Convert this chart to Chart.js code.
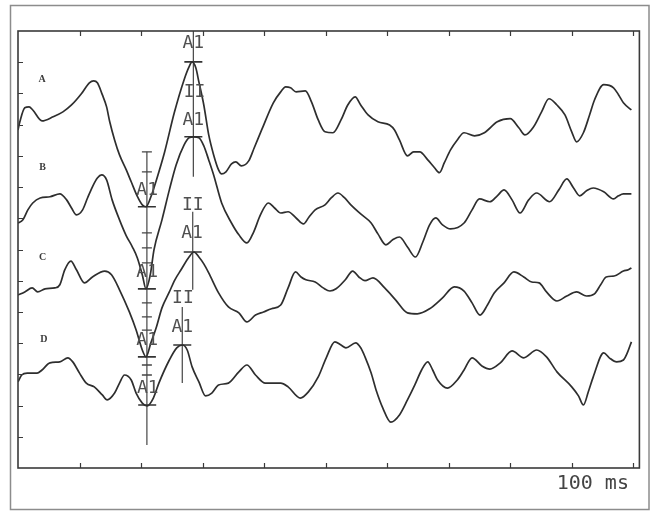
<!DOCTYPE html>
<html>
<head>
<meta charset="utf-8">
<script src="https://cdn.jsdelivr.net/npm/chart.js@4.4.1/dist/chart.umd.min.js"></script>
<style>
  html, body { margin: 0; padding: 0; background: #fff; }
  #wrap { width: 650px; height: 512px; position: relative; }
</style>
</head>
<body>
<div id="wrap"><canvas id="chart" width="650" height="512"></canvas></div>
<script>
// time in ms, amplitude in vertical divisions (0 = bottom, 14 = top)
const aTime = [0, 0.3, 1.1, 1.8, 2.4, 3.9, 5.7, 7.3, 8.7, 10.3, 11.6, 12.3, 12.9, 13.7, 14.4, 14.9, 15.7, 16.5, 17.6, 18.4, 19.4, 20.2, 20.8, 21.6, 22.5, 23.8, 25.4, 27.0, 27.8, 28.3, 28.9, 29.4, 30.2, 31.0, 31.8, 32.6, 33.1, 33.8, 34.7, 35.4, 36.3, 37.5, 38.4, 39.6, 41.5, 42.7, 43.5, 44.3, 45.2, 46.7, 47.7, 48.8, 49.9, 51.2, 52.5, 53.6, 54.8, 55.7, 56.9, 58.5, 60.4, 61.2, 62.0, 63.3, 64.3, 65.3, 66.6, 67.7, 68.5, 69.3, 70.3, 71.4, 72.5, 74.2, 75.8, 77.9, 80.0, 81.4, 82.4, 83.8, 85.1, 86.3, 87.6, 88.9, 90.0, 90.8, 91.9, 92.9, 93.7, 95.2, 96.8, 97.6, 98.4, 99.7];
const aVal = [10.83, 11.09, 11.54, 11.57, 11.47, 11.12, 11.25, 11.41, 11.63, 11.99, 12.34, 12.40, 12.34, 11.96, 11.57, 11.10, 10.51, 10.03, 9.55, 9.17, 8.70, 8.43, 8.37, 8.69, 9.23, 10.10, 11.38, 12.44, 12.85, 13.01, 12.82, 12.37, 11.63, 10.67, 10.03, 9.55, 9.42, 9.49, 9.74, 9.81, 9.68, 9.84, 10.26, 10.83, 11.70, 12.05, 12.21, 12.18, 12.05, 12.08, 11.73, 11.15, 10.77, 10.74, 11.15, 11.63, 11.89, 11.63, 11.31, 11.09, 10.99, 10.83, 10.51, 10.00, 10.13, 10.13, 9.87, 9.62, 9.46, 9.78, 10.19, 10.51, 10.74, 10.64, 10.74, 11.09, 11.19, 10.90, 10.67, 10.93, 11.41, 11.83, 11.63, 11.31, 10.77, 10.45, 10.74, 11.31, 11.79, 12.28, 12.18, 11.96, 11.70, 11.47];

const bTime = [0, 0.8, 1.6, 2.4, 3.6, 5.2, 6.8, 7.9, 8.7, 9.5, 10.5, 11.3, 12.1, 12.9, 13.6, 14.4, 15.3, 16.5, 17.6, 18.6, 19.4, 20.2, 20.8, 21.5, 22.1, 23.4, 24.6, 25.7, 27.0, 27.8, 28.6, 29.4, 30.2, 31.0, 31.8, 33.1, 34.7, 35.9, 37.2, 38.3, 39.4, 40.7, 41.7, 42.7, 43.9, 45.2, 46.4, 47.3, 48.3, 49.9, 50.9, 52.0, 53.1, 54.1, 55.7, 57.4, 58.5, 59.8, 60.9, 62.0, 63.3, 64.6, 65.8, 66.9, 67.9, 69.0, 70.3, 72.5, 73.8, 75.0, 76.7, 77.9, 79.0, 80.3, 81.6, 83.0, 84.3, 86.4, 87.9, 89.2, 90.3, 91.3, 92.4, 93.5, 95.2, 96.8, 97.6, 98.4, 99.7];
const bVal = [7.85, 7.95, 8.27, 8.49, 8.65, 8.69, 8.78, 8.59, 8.33, 8.11, 8.27, 8.65, 9.01, 9.29, 9.39, 9.23, 8.59, 7.95, 7.44, 7.08, 6.73, 6.19, 5.74, 6.19, 6.99, 7.95, 8.91, 9.71, 10.35, 10.58, 10.61, 10.58, 10.32, 9.87, 9.39, 8.49, 7.85, 7.47, 7.21, 7.56, 8.11, 8.49, 8.33, 8.17, 8.21, 8.01, 7.82, 8.04, 8.27, 8.43, 8.65, 8.81, 8.65, 8.43, 8.14, 7.85, 7.50, 7.15, 7.31, 7.40, 7.08, 6.76, 7.24, 7.79, 8.01, 7.79, 7.66, 7.85, 8.27, 8.62, 8.53, 8.72, 8.91, 8.59, 8.17, 8.59, 8.81, 8.53, 8.91, 9.26, 8.97, 8.72, 8.88, 8.97, 8.85, 8.62, 8.72, 8.78, 8.78];

const cTime = [0, 1.1, 2.3, 3.2, 4.4, 6.0, 6.8, 7.6, 8.6, 9.5, 10.8, 12.1, 14.1, 15.2, 16.5, 18.1, 19.2, 20.2, 20.8, 21.6, 22.5, 23.4, 24.6, 25.5, 26.5, 27.8, 28.6, 29.4, 30.2, 31.0, 32.6, 34.2, 35.9, 37.2, 38.6, 39.9, 41.2, 42.7, 43.9, 45.1, 46.0, 46.8, 48.3, 49.6, 50.7, 51.7, 53.2, 54.4, 55.4, 56.4, 57.7, 59.6, 61.4, 63.3, 64.9, 66.9, 69.0, 70.9, 72.5, 73.8, 75.1, 76.3, 77.4, 79.0, 80.6, 82.2, 83.5, 84.7, 85.9, 87.6, 89.2, 90.8, 92.4, 93.7, 94.7, 95.6, 96.9, 98.4, 99.2, 99.7];
const cVal = [5.54, 5.64, 5.77, 5.64, 5.74, 5.77, 5.87, 6.35, 6.63, 6.35, 5.93, 6.12, 6.31, 6.19, 5.71, 5.00, 4.42, 3.78, 3.56, 4.01, 4.52, 5.13, 5.64, 6.03, 6.35, 6.76, 6.92, 6.76, 6.54, 6.25, 5.61, 5.16, 4.97, 4.68, 4.90, 5.00, 5.10, 5.22, 5.77, 6.28, 6.12, 6.03, 5.96, 5.77, 5.67, 5.74, 6.03, 6.31, 6.12, 6.00, 6.09, 5.77, 5.38, 4.97, 4.94, 5.10, 5.45, 5.80, 5.67, 5.29, 4.90, 5.22, 5.61, 5.93, 6.28, 6.12, 5.96, 5.93, 5.64, 5.35, 5.51, 5.64, 5.51, 5.58, 5.87, 6.12, 6.15, 6.31, 6.35, 6.41];

const dTime = [0, 0.6, 1.5, 3.1, 3.9, 5.2, 6.8, 8.1, 8.9, 10.0, 11.1, 12.4, 13.7, 14.5, 15.7, 16.5, 17.3, 18.4, 19.2, 20.2, 21.0, 22.0, 22.9, 24.6, 25.8, 26.7, 27.5, 28.3, 29.4, 30.5, 31.5, 32.6, 34.2, 35.9, 37.2, 38.6, 40.2, 42.7, 43.9, 45.9, 47.2, 48.8, 50.1, 51.5, 52.5, 53.3, 54.9, 55.7, 56.4, 57.4, 58.2, 59.3, 60.6, 62.0, 63.3, 64.5, 65.6, 66.6, 67.4, 68.2, 69.8, 71.4, 72.5, 73.8, 75.4, 76.7, 78.4, 80.3, 82.2, 84.3, 85.9, 87.6, 90.0, 91.1, 91.9, 92.7, 93.5, 95.2, 96.1, 97.3, 98.4, 99.1, 99.7];
const dVal = [2.76, 2.98, 3.04, 3.04, 3.14, 3.37, 3.40, 3.53, 3.40, 3.04, 2.72, 2.60, 2.34, 2.18, 2.40, 2.72, 2.98, 2.82, 2.40, 2.08, 1.99, 2.24, 2.72, 3.46, 3.85, 3.94, 3.78, 3.24, 2.76, 2.31, 2.40, 2.66, 2.72, 3.08, 3.30, 2.98, 2.72, 2.72, 2.60, 2.24, 2.44, 2.92, 3.53, 4.04, 3.94, 3.85, 4.01, 3.85, 3.56, 3.04, 2.50, 1.92, 1.47, 1.70, 2.18, 2.66, 3.14, 3.40, 3.14, 2.82, 2.56, 2.82, 3.14, 3.53, 3.27, 3.17, 3.37, 3.75, 3.53, 3.78, 3.56, 3.08, 2.60, 2.31, 2.02, 2.44, 2.92, 3.69, 3.53, 3.40, 3.46, 3.72, 4.04];

// trace letters
const traceNames = ['A', 'B', 'C', 'D'];
const traceNameX = [3.9, 4.0, 4.0, 4.2];
const traceNameY = [12.44, 9.62, 6.76, 4.13];

// vertical cursor lines: time, top, bottom
const cursorTime = [28.5, 20.95, 28.4, 26.7];
const cursorTop = [14.0, 10.13, 8.21, 5.16];
const cursorBottom = [9.33, 0.74, 5.71, 2.72];

// wave picks (long crossbars)
const pickTime = [28.5, 28.5, 20.95, 20.95, 20.95, 21.0, 28.4, 26.7];
const pickVal = [13.01, 10.61, 8.37, 5.74, 3.56, 2.02, 6.92, 3.94];

// short ticks along the trough cursor
const notchVal = [10.13, 9.49, 7.53, 7.05, 6.57, 5.29, 4.84, 4.42, 3.30, 2.98];

// pick labels
const markText = ['A1', 'II', 'A1', 'A1', 'A1', 'A1', 'A1', 'II', 'A1', 'II', 'A1'];
const markX = [28.5, 28.7, 28.5, 21.0, 21.0, 21.0, 21.1, 28.4, 28.3, 26.8, 26.7];
const markY = [13.59, 12.05, 11.15, 8.91, 6.28, 4.10, 2.56, 8.43, 7.53, 5.45, 4.52];

const xTicks = [10, 20, 30, 40, 50, 60, 70, 80, 90, 100];
const yTicks = [1, 2, 3, 4, 5, 6, 7, 8, 9, 10, 11, 12, 13];

const INK = '#2e2e2e';

function pts(t, v) { return t.map((x, i) => ({ x: x, y: v[i] })); }

const traces = [[aTime, aVal], [bTime, bVal], [cTime, cVal], [dTime, dVal]].map(p => ({
  type: 'line',
  data: pts(p[0], p[1]),
  borderColor: INK,
  borderWidth: 1.7,
  pointRadius: 0,
  cubicInterpolationMode: 'monotone',
  fill: false
}));

const cursors = cursorTime.map((t, i) => ({
  type: 'line',
  data: [{ x: t, y: cursorTop[i] }, { x: t, y: cursorBottom[i] }],
  borderColor: '#444',
  borderWidth: 1.2,
  pointRadius: 0,
  tension: 0
}));

const picks = {
  type: 'scatter',
  data: pts(pickTime, pickVal),
  pointStyle: 'line',
  pointRadius: 9,
  pointBorderWidth: 1.6,
  pointBorderColor: '#333',
  showLine: false
};

const notches = {
  type: 'scatter',
  data: notchVal.map(v => ({ x: cursorTime[1], y: v })),
  pointStyle: 'line',
  pointRadius: 5,
  pointBorderWidth: 1.3,
  pointBorderColor: '#444',
  showLine: false
};

const overlay = {
  id: 'overlay',
  beforeDraw(chart) {
    const c = chart.ctx;
    c.save();
    c.fillStyle = '#fff';
    c.fillRect(0, 0, chart.width, chart.height);
    c.strokeStyle = '#8c8c8c';
    c.lineWidth = 1.5;
    c.strokeRect(10.5, 5.5, chart.width - 11.5, chart.height - 8);
    c.restore();
  },
  afterDatasetsDraw(chart) {
    const c = chart.ctx;
    const a = chart.chartArea;
    const x = chart.scales.x;
    const y = chart.scales.y;
    c.save();
    c.strokeStyle = '#3a3a3a';
    c.lineWidth = 1.6;
    c.strokeRect(a.left, a.top, a.right - a.left, a.bottom - a.top);

    c.lineWidth = 1.2;
    c.beginPath();
    xTicks.forEach(v => {
      const px = Math.round(x.getPixelForValue(v)) + 0.5;
      c.moveTo(px, a.top); c.lineTo(px, a.top + 5);
      c.moveTo(px, a.bottom); c.lineTo(px, a.bottom - 5);
    });
    yTicks.forEach(v => {
      const py = Math.round(y.getPixelForValue(v)) + 0.5;
      c.moveTo(a.left, py); c.lineTo(a.left + 5, py);
    });
    c.stroke();

    c.fillStyle = '#3c3c3c';
    c.font = 'bold 10px "Liberation Serif", serif';
    c.textAlign = 'center';
    c.textBaseline = 'middle';
    traceNames.forEach((n, i) => {
      c.fillText(n, x.getPixelForValue(traceNameX[i]), y.getPixelForValue(traceNameY[i]));
    });

    c.fillStyle = '#505050';
    c.font = '18px "DejaVu Sans Mono", monospace';
    markText.forEach((t, i) => {
      c.fillText(t, x.getPixelForValue(markX[i]), y.getPixelForValue(markY[i]));
    });

    c.fillStyle = '#444';
    c.font = '20px "DejaVu Sans Mono", monospace';
    c.textAlign = 'right';
    c.textBaseline = 'alphabetic';
    c.fillText('100 ms', x.getPixelForValue(99.3), a.bottom + 21);
    c.restore();
  }
};

new Chart(document.getElementById('chart'), {
  type: 'line',
  data: { datasets: traces.concat(cursors, [picks, notches]) },
  options: {
    responsive: false,
    animation: false,
    devicePixelRatio: 1,
    layout: { padding: { left: 18, top: 31, right: 7, bottom: 44 } },
    plugins: { legend: { display: false }, tooltip: { enabled: false } },
    scales: {
      x: { type: 'linear', min: 0, max: 101, display: false },
      y: { type: 'linear', min: 0, max: 14, display: false }
    }
  },
  plugins: [overlay]
});
</script>
</body>
</html>
